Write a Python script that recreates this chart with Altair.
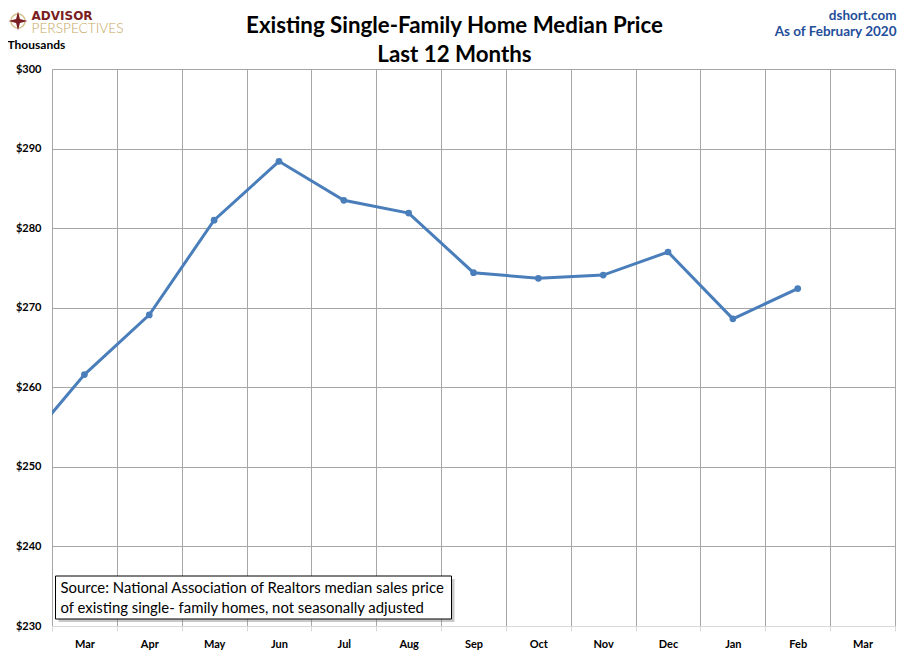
import altair as alt
import pandas as pd

# x-axis tick labels (13 monthly slots shown on the axis)
axis_labels = ["Mar", "Apr", "May", "Jun", "Jul", "Aug", "Sep", "Oct", "Nov", "Dec", "Jan", "Feb", "Mar"]
# series months: Feb 2019 (just before the window) then Mar 2019 .. Feb 2020
series_months = ["Feb 2019", "Mar 2019", "Apr 2019", "May 2019", "Jun 2019", "Jul 2019", "Aug 2019",
                 "Sep 2019", "Oct 2019", "Nov 2019", "Dec 2019", "Jan 2020", "Feb 2020"]
# median price, thousands of dollars
prices = [251.9, 261.6, 269.1, 281.0, 288.4, 283.5, 281.9, 274.4, 273.7, 274.1, 277.0, 268.6, 272.4]
y_ticks = [230, 240, 250, 260, 270, 280, 290, 300]

W, H = 843, 557
FONT = "Lato"

df = pd.DataFrame({
    "month": series_months,
    "pos": [i - 1 for i in range(len(prices))],
    "price": prices,
})

label_arr = "[" + ",".join("'" + s + "'" for s in axis_labels) + "]"
n = len(axis_labels)

x_enc = alt.X(
    "pos:Q",
    scale=alt.Scale(domain=[-0.5, n - 0.5], nice=False, zero=False),
    axis=alt.Axis(
        values=[k - 0.5 for k in range(n + 1)],
        labelExpr=f"{label_arr}[datum.value + 0.5] || ''",
        labelOffset=W / n / 2,
        labelFlush=False,
        labelOverlap=False,
        labelFont=FONT, labelFontWeight="bold", labelFontSize=11, labelColor="#000000",
        labelPadding=7,
        tickSize=5, tickColor="#d9d9d9",
        domainColor="#d9d9d9",
        grid=True, gridColor="#a6a6a6",
        title=None,
    ),
)
y_enc = alt.Y(
    "price:Q",
    scale=alt.Scale(domain=[230, 300], nice=False, zero=False),
    axis=alt.Axis(
        values=y_ticks,
        labelExpr="'$' + datum.value",
        labelFont=FONT, labelFontWeight="bold", labelFontSize=11, labelColor="#000000",
        labelPadding=11, tickSize=0, domain=False,
        grid=True,
        gridColor={"condition": {"test": "datum.value == 230", "value": "#d9d9d9"}, "value": "#a6a6a6"},
        title=None,
    ),
)

base = alt.Chart(df)
line = base.mark_line(color="#4a7ebb", strokeWidth=3, clip=True).encode(x=x_enc, y=y_enc, order="pos:Q")
pts = base.transform_filter("datum.pos >= 0").mark_point(
    filled=True, color="#4a7ebb", size=45, opacity=1
).encode(x="pos:Q", y="price:Q")

one = pd.DataFrame({"k": [0]})


def txt(s, x, y, size, weight="normal", color="#000000", align="left", baseline="middle", font=FONT):
    return alt.Chart(one).mark_text(
        text=s, align=align, baseline=baseline, font=font, fontSize=size,
        fontWeight=weight, color=color
    ).encode(x=alt.value(x), y=alt.value(y))


title1 = txt("Existing Single-Family Home Median Price", 402.5, -43, 22.3, "bold", align="center")
title2 = txt("Last 12 Months", 402.5, -14, 22.3, "bold", align="center")
site1 = txt("dshort.com", 844.5, -53.5, 13.5, "bold", "#1f4e9a", align="right")
site2 = txt("As of February 2020", 844.5, -37, 13.5, "bold", "#1f4e9a", align="right")
thous = txt("Thousands", -44.5, -24, 12, "bold")
logo1 = txt("ADVISOR", -20.5, -49.5, 12, "bold", "#7a1e23", baseline="alphabetic", font="DejaVu Sans")
logo2 = txt("PERSPECTIVES", -20.5, -36.5, 13.7, 300, "#c5a75e", baseline="alphabetic")

ring = alt.Chart(one).mark_point(shape="circle", size=200, color="#c5a75e", strokeWidth=1.5).encode(
    x=alt.value(-34), y=alt.value(-48))
star = alt.Chart(one).mark_point(
    shape="M0,-1L0.2,-0.2L1,0L0.2,0.2L0,1L-0.2,0.2L-1,0L-0.2,-0.2Z",
    size=360, filled=True, color="#7a1e23", opacity=1).encode(x=alt.value(-34), y=alt.value(-48))

shadow = alt.Chart(one).mark_rect(fill="#888888", opacity=0.45).encode(
    x=alt.value(6.5), x2=alt.value(402.5), y=alt.value(510), y2=alt.value(553))
box = alt.Chart(one).mark_rect(fill="#ffffff", stroke="#000000", strokeWidth=1).encode(
    x=alt.value(3.5), x2=alt.value(399.5), y=alt.value(507), y2=alt.value(550))
src1 = txt("Source: National Association of Realtors median sales price", 8.5, 524, 14.9, baseline="alphabetic")
src2 = txt("of existing single- family homes, not seasonally adjusted", 8.5, 544, 14.9, baseline="alphabetic")

chart = alt.layer(
    line, pts, shadow, box, src1, src2,
    title1, title2, site1, site2, thous, logo1, logo2, ring, star,
).properties(
    width=W, height=H,
    autosize=alt.AutoSizeParams(type="none"),
    padding={"left": 44, "top": 61, "right": 5, "bottom": 27},
    background="#ffffff",
).configure_view(stroke=None)

chart.save("out.html", embed_options={"renderer": "svg", "actions": False})
